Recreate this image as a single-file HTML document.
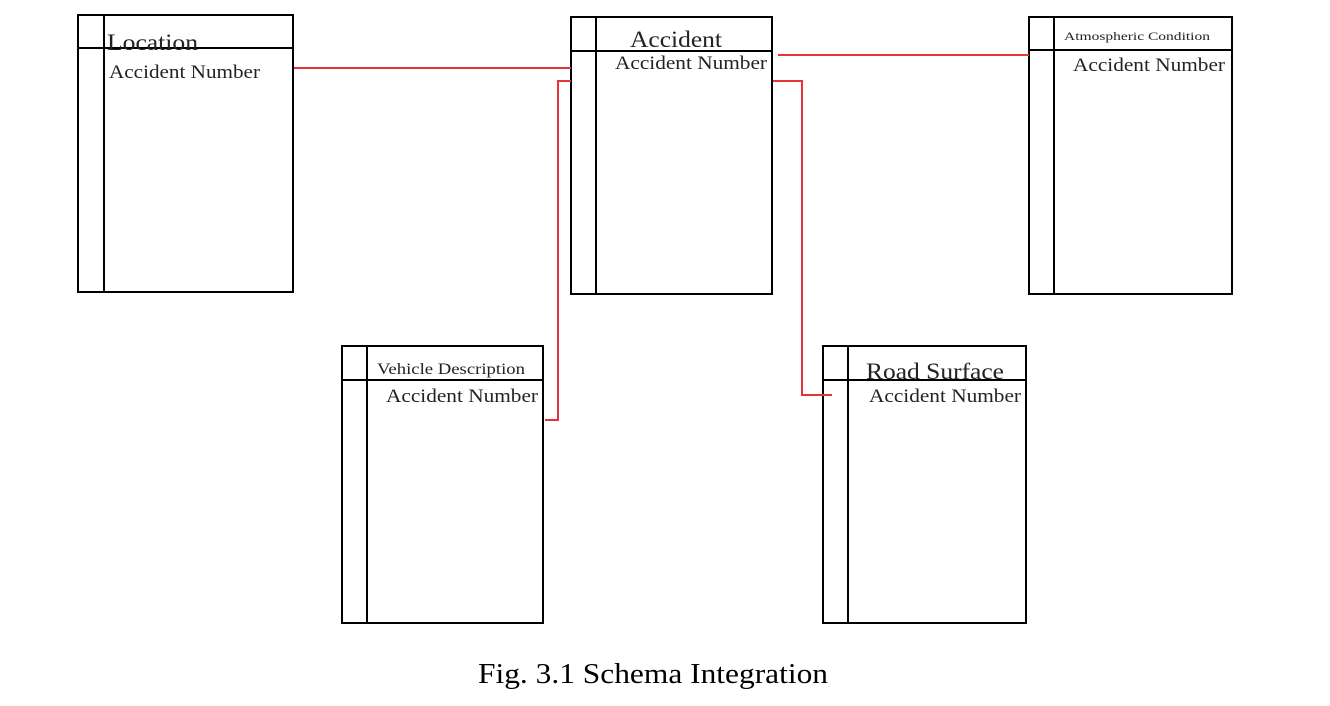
<!DOCTYPE html>
<html><head><meta charset="utf-8"><style>
html,body{margin:0;padding:0;background:#fff;width:1330px;height:706px;overflow:hidden}
svg{display:block}
text{font-family:"Liberation Serif",serif;fill:#222}
</style></head><body>
<svg width="1330" height="706" viewBox="0 0 1330 706">
<g fill="none" stroke="#000" stroke-width="2">
<rect x="78" y="15" width="215" height="277"/><line x1="78" y1="48" x2="293" y2="48"/><line x1="104" y1="15" x2="104" y2="292"/>
<rect x="571" y="17" width="201" height="277"/><line x1="571" y1="51" x2="772" y2="51"/><line x1="596" y1="17" x2="596" y2="294"/>
<rect x="1029" y="17" width="203" height="277"/><line x1="1029" y1="50" x2="1232" y2="50"/><line x1="1054" y1="17" x2="1054" y2="294"/>
<rect x="342" y="346" width="201" height="277"/><line x1="342" y1="380" x2="543" y2="380"/><line x1="367" y1="346" x2="367" y2="623"/>
<rect x="823" y="346" width="203" height="277"/><line x1="823" y1="380" x2="1026" y2="380"/><line x1="848" y1="346" x2="848" y2="623"/>
</g>
<g fill="none" stroke="#e8323a" stroke-width="2">
<line x1="294" y1="68" x2="571" y2="68"/>
<line x1="778" y1="55" x2="1029" y2="55"/>
<polyline points="571,81 558,81 558,420 545,420"/>
<polyline points="773,81 802,81 802,395 832,395"/>
</g>
<text x="107" y="50" font-size="23" textLength="91" lengthAdjust="spacingAndGlyphs">Location</text>
<text x="109" y="78" font-size="19" textLength="151" lengthAdjust="spacingAndGlyphs">Accident Number</text>
<text x="630" y="47" font-size="23" textLength="92" lengthAdjust="spacingAndGlyphs">Accident</text>
<text x="615" y="69" font-size="19" textLength="152" lengthAdjust="spacingAndGlyphs">Accident Number</text>
<text x="1064" y="40" font-size="12" textLength="146" lengthAdjust="spacingAndGlyphs">Atmospheric Condition</text>
<text x="1073" y="71" font-size="19" textLength="152" lengthAdjust="spacingAndGlyphs">Accident Number</text>
<text x="377" y="374" font-size="16" textLength="148" lengthAdjust="spacingAndGlyphs">Vehicle Description</text>
<text x="386" y="402" font-size="19" textLength="152" lengthAdjust="spacingAndGlyphs">Accident Number</text>
<text x="866" y="379" font-size="23" textLength="138" lengthAdjust="spacingAndGlyphs">Road Surface</text>
<text x="869" y="402" font-size="19" textLength="152" lengthAdjust="spacingAndGlyphs">Accident Number</text>
<text x="478" y="683" font-size="28" textLength="350" lengthAdjust="spacingAndGlyphs" style="fill:#000">Fig. 3.1 Schema Integration</text>
</svg>
</body></html>
